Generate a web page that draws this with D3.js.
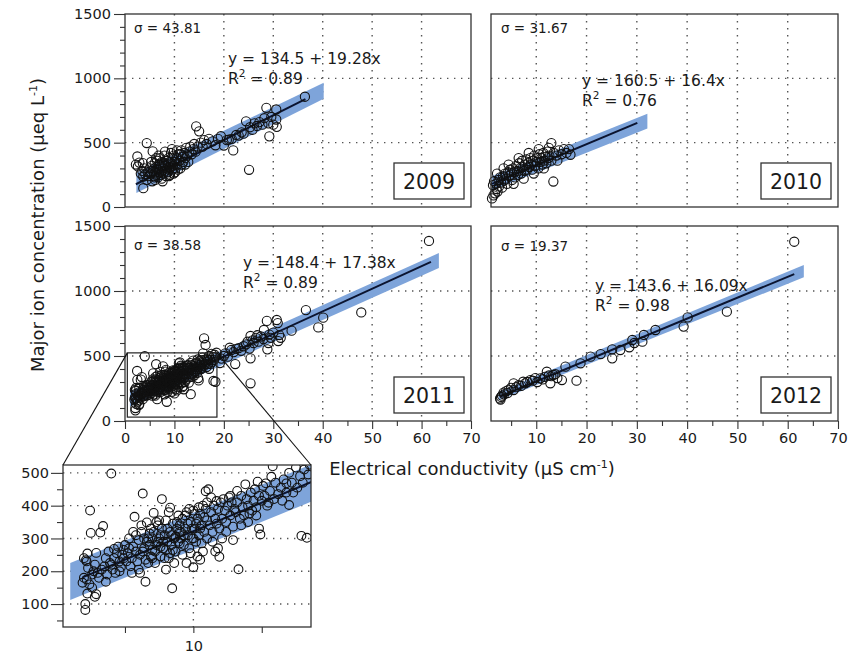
<!DOCTYPE html>
<html><head><meta charset="utf-8">
<script src="https://cdn.jsdelivr.net/npm/d3@7"></script>
<style>
body{margin:0;background:#fff;}
svg text{font-family:"DejaVu Sans","Liberation Sans",Arial,sans-serif;fill:#1a1a1a;}
</style></head><body>
<svg id="chart" width="861" height="656"></svg>
<script>
// ---------------- DATA ----------------
const years = ["2009","2010","2011","2012"];
const sigmas = ["43.81","31.67","38.58","19.37"];
const intercepts = [134.5,160.5,148.4,143.6];
const slopes = [19.28,16.4,17.38,16.09];
const r2 = ["0.89","0.76","0.89","0.98"];
const lineRanges = [[2.2,36.5],[1.2,30.1],[1.9,61.9],[2.8,61.3]];
const bandX = [[2.3,40.2],[1.2,32.1],[1.0,63.5],[2.5,63.2]];
const bandLo = [[109,841],[130,610],[112,1177],[160,1105]];
const bandHi = [[266,966],[240,725],[225,1292],[225,1200]];
const xTicksMain = [0,10,20,30,40,50,60,70];
const xMinorMain = [5,15,25,35,45,55,65];
const yTicksMain = [0,500,1000,1500];
const yMinorMain = [100,200,300,400,600,700,800,900,1100,1200,1300,1400];
const gridX = [10,20,30,40,50,60];
const gridY = [500,1000];
const yTicksInset = [100,200,300,400,500];
const yMinorInset = [50,150,250,350,450];
const xTicksInset = [5,10,15];
const xLabelInset = [10];
const insetXDomain = [0.47,18.6];
const insetYDomain = [30,524];

const pts2009 = [[2.5,393],[2.6,315],[2.2,330],[2.9,345],[3.6,341],[4.4,497],[3.7,146],[3.7,237],[4.4,211],[3.2,260],[3.5,280],[3.9,300],[4.1,255],[4.6,270],[4.8,240],[5.0,300],[5.2,260],[5.4,320],[5.6,432],[5.6,280],[5.8,240],[5.9,299],[6.0,340],[6.1,210],[6.2,270],[6.3,310],[6.4,250],[6.5,360],[6.6,290],[6.7,230],[6.8,330],[6.9,270],[7.0,300],[7.1,380],[7.2,250],[7.3,320],[7.4,280],[7.5,350],[7.6,200],[7.7,300],[7.8,260],[7.9,340],[8.0,400],[8.1,280],[8.2,320],[8.3,240],[8.4,360],[8.5,300],[8.6,270],[8.7,330],[8.8,380],[8.9,290],[9.0,350],[9.1,250],[9.2,310],[9.3,420],[9.4,340],[9.5,290],[9.6,370],[9.7,320],[9.8,260],[9.9,400],[10.0,350],[10.2,300],[10.4,380],[10.6,330],[10.8,410],[11.0,360],[11.2,300],[11.4,440],[11.6,390],[11.8,350],[12.0,420],[12.2,380],[12.4,460],[12.6,400],[12.8,350],[13.0,430],[13.2,470],[13.5,410],[13.8,450],[14.0,490],[14.4,627],[15.0,588],[14.3,430],[14.7,470],[15.3,500],[15.7,470],[16.0,520],[16.5,490],[17.0,530],[17.7,510],[18.3,480],[18.8,530],[19.4,550],[20.0,478],[20.6,520],[21.0,523],[21.6,530],[21.9,440],[22.5,560],[23.0,555],[23.6,580],[24.0,570],[24.5,666],[25.1,289],[25.3,620],[25.8,600],[26.2,650],[26.7,630],[27.2,660],[27.8,640],[28.2,690],[28.6,771],[29.0,650],[29.2,549],[29.6,700],[30.0,640],[30.6,758],[30.6,680],[30.7,623],[36.4,857],[5.3,350],[6.0,230],[6.8,400],[7.4,220],[8.1,430],[8.9,240],[9.5,450],[10.1,270],[10.7,290],[11.5,330],[5.5,200],[6.3,380],[7.0,330],[8.6,360],[9.8,300],[10.5,440],[11.3,410],[12.2,330]];

const pts2010 = [[1.2,67],[1.5,90],[1.8,106],[2.1,140],[1.4,170],[1.6,200],[2.0,180],[2.3,120],[2.5,210],[2.6,160],[2.8,230],[3.0,190],[3.2,150],[3.4,240],[3.6,205],[3.8,260],[4.0,220],[4.2,180],[4.4,270],[4.6,240],[4.8,290],[5.0,250],[5.2,210],[5.4,300],[5.6,270],[5.8,230],[6.0,320],[6.2,280],[6.4,250],[6.6,340],[6.8,300],[7.0,260],[7.2,360],[7.4,310],[7.6,280],[7.8,330],[8.0,370],[8.2,290],[8.4,340],[8.6,310],[8.8,380],[9.0,330],[9.2,290],[9.4,360],[9.6,400],[9.8,320],[10.0,350],[10.2,380],[10.4,300],[10.6,410],[10.8,350],[11.0,380],[11.2,330],[11.4,420],[11.6,360],[11.8,390],[12.0,340],[12.2,430],[12.4,380],[12.6,400],[13.0,497],[13.0,360],[13.4,198],[13.5,420],[14.0,400],[14.5,440],[15.0,410],[15.5,450],[16.0,420],[16.5,450],[16.8,406],[5.5,180],[7.5,220],[9.5,260],[3.5,300],[6.5,380],[8.5,420],[10.5,450],[2.2,260],[4.5,330],[12.5,460],[11.5,300],[14.2,360]];

const pts2011 = [[2.1,82],[2.1,100],[2.2,175],[2.15,234],[2.45,385],[2.5,317],[2.25,254],[2.25,132],[2.8,122],[2.9,130],[1.9,165],[2.0,180],[2.3,210],[2.6,190],[2.7,200],[2.4,160],[2.9,256],[2.2,230],[2.0,240],[2.6,150],[2.8,220],
[3.2,318],[3.4,338],[3.6,168],[4.0,498],[3.1,180],[3.3,205],[3.5,215],[3.7,190],[3.9,225],[4.1,205],[4.2,240],[4.4,255],[4.6,230],[4.8,250],[3.8,260],[4.3,195],[4.5,275],[4.7,212],[4.9,240],[3.0,195],[3.6,240],[4.0,220],[4.2,268],[4.6,200],[4.9,265],
[5.7,366],[6.3,437],[6.5,168],[6.6,349],[5.1,230],[5.2,255],[5.3,300],[5.4,215],[5.5,240],[5.6,275],[5.8,260],[5.9,230],[6.0,295],[6.1,250],[6.2,320],[6.4,270],[6.5,235],[6.7,300],[6.8,280],[6.9,245],[5.5,195],[6.0,205],[6.2,340],[6.6,290],[6.9,330],[5.3,270],[5.8,310],[6.3,260],[6.7,225],[5.0,280],[6.1,195],[6.8,315],[5.6,320],[6.4,300],[7.0,265],
[7.1,378],[7.7,420],[8.3,394],[8.45,148],[7.0,300],[7.1,320],[7.2,260],[7.3,280],[7.4,340],[7.5,300],[7.6,245],[7.7,330],[7.8,270],[7.9,310],[8.0,355],[8.1,290],[8.2,240],[8.3,320],[8.4,280],[8.5,345],[8.6,300],[8.7,260],[8.8,330],[8.9,370],[7.2,225],[7.5,355],[7.9,240],[8.2,380],[8.6,225],[8.9,290],[7.4,290],[7.6,310],[8.0,265],[8.4,310],[8.8,350],[7.3,350],[7.8,290],[8.1,330],[8.5,265],[8.7,305],[7.0,240],[7.6,275],[8.3,255],[9.0,320],[8.0,205],
[10.0,212],[9.0,340],[9.1,300],[9.2,360],[9.3,280],[9.4,330],[9.5,380],[9.6,310],[9.7,270],[9.8,350],[9.9,300],[10.0,385],[10.1,330],[10.2,290],[10.3,360],[10.4,310],[10.5,375],[10.6,340],[10.7,260],[10.8,320],[10.9,444],[11.0,355],[9.2,250],[9.5,225],[9.8,255],[10.3,245],[10.6,285],[11.0,300],[9.4,370],[9.7,390],[10.1,375],[10.5,330],[10.9,390],[9.1,320],[9.6,345],[10.2,345],[10.7,400],[9.3,310],[9.9,330],[10.4,395],[10.8,365],[9.0,285],[10.0,300],[11.0,410],[10.5,235],
[11.1,450],[11.7,414],[11.9,244],[11.8,270],[12.9,336],[12.9,295],[11.2,340],[11.3,380],[11.4,320],[11.5,400],[11.6,360],[11.7,345],[11.8,390],[11.9,330],[12.0,410],[12.1,360],[12.2,420],[12.3,385],[12.4,350],[12.5,400],[12.6,425],[12.7,370],[12.8,410],[13.0,390],[11.4,290],[11.6,260],[12.1,300],[12.4,320],[12.7,430],[11.3,425],
[13.3,206],[13.8,465],[14.7,473],[14.9,312],[14.8,330],[14.1,376],[13.1,380],[13.2,410],[13.4,360],[13.5,430],[13.6,395],[13.7,370],[13.9,420],[14.0,400],[14.2,440],[14.3,385],[14.4,415],[14.5,450],[14.6,395],[14.8,430],[15.0,415],[13.5,340],[14.0,350],[13.2,445],[14.6,370],
[15.8,520],[17.5,516],[18.1,510],[15.7,488],[15.3,468],[16.8,468],[17.3,440],[17.0,402],[15.5,409],[17.9,308],[15.2,430],[15.4,400],[15.6,445],[15.9,420],[16.0,470],[16.2,435],[16.4,455],[16.3,585],[16.0,636],[16.6,480],[16.8,440],[17.0,500],[17.2,470],[17.6,455],[17.8,490],[18.0,470],[18.3,302],[18.4,495],[18.5,525],[16.5,415],[15.1,460],
[19.2,446],[19.5,480],[20.0,500],[20.3,520],[20.8,495],[21.2,564],[21.5,546],[22.0,530],[22.3,438],[22.5,555],[23.0,560],[23.5,540],[24.0,575],[24.5,590],[25.2,557],[25.4,482],[25.4,654],[25.4,290],[25.8,620],[26.0,600],[26.5,640],[27.0,610],[27.5,650],[28.0,630],[28.1,700],[28.7,770],[28.8,551],[29.2,665],[29.5,640],[30.0,680],[30.7,777],[30.9,753],[31.0,615],[31.2,661],[31.5,640],[33.7,695],[36.6,853],[39.1,720],[40.1,795],[47.8,835],[61.5,1385],[24.8,610],[26.8,660],[29.0,600]];

const pts2012 = [[2.8,174],[3.0,185],[2.9,165],[3.2,195],[3.5,218],[3.6,205],[4.0,230],[4.3,215],[4.5,240],[5.0,255],[5.5,290],[5.5,238],[6.0,260],[6.5,275],[7.0,270],[7.4,302],[7.8,290],[8.2,300],[8.8,315],[9.3,310],[9.8,330],[10.2,300],[10.8,328],[11.3,320],[11.7,340],[12.1,379],[12.5,350],[12.8,290],[13.0,345],[13.4,354],[13.8,360],[14.2,330],[15.1,315],[15.8,418],[18.0,310],[18.8,444],[20.8,495],[22.8,515],[25.1,551],[25.1,482],[26.7,546],[28.5,567],[29.1,623],[29.5,600],[31.1,610],[31.4,662],[33.7,700],[39.3,726],[40.1,797],[47.9,841],[61.3,1379]];

const allPts = [pts2009, pts2010, pts2011, pts2012];

// ---------------- LAYOUT ----------------
const layouts = [
  {x:[125,471], y:[207,14],  xd:[0,70], yAxis:true,  xAxis:false, sig:[134,33],  eq:[228,64]},
  {x:[491,838], y:[207,14],  xd:[1,70], yAxis:false, xAxis:false, sig:[501,33],  eq:[582,86]},
  {x:[125,471], y:[421,226], xd:[0,70], yAxis:true,  xAxis:true,  sig:[134,250], eq:[243,268]},
  {x:[491,838], y:[421,226], xd:[1,70], yAxis:false, xAxis:true,  sig:[501,251], eq:[595,291]}
];
const svg = d3.select("#chart");
const gridStyle = s => s.attr("stroke","#555").attr("stroke-width",1.4).attr("stroke-dasharray","1.4,5.6");
const bandColor = "#7ea4da";
const lineColor = "#0b1430";
const plainFmt = d3.format("d");

function styleAxis(g){ g.select(".domain").remove(); g.selectAll(".tick line").attr("stroke","#333").attr("stroke-width",1.1); g.selectAll("text").attr("font-size","14.5px").attr("fill","#1a1a1a"); }

let scales2011 = null;
layouts.forEach((L,i)=>{
  const xs = d3.scaleLinear().domain(L.xd).range(L.x);
  const ys = d3.scaleLinear().domain([0,1500]).range(L.y);
  if(i===2) scales2011 = {xs,ys};
  const g = svg.append("g");
  // grid
  g.selectAll("line.gx").data(gridX).join("line").attr("class","gx").attr("x1",d=>xs(d)).attr("x2",d=>xs(d)).attr("y1",L.y[1]).attr("y2",L.y[0]).call(gridStyle);
  g.selectAll("line.gy").data(gridY).join("line").attr("class","gy").attr("y1",d=>ys(d)).attr("y2",d=>ys(d)).attr("x1",L.x[0]).attr("x2",L.x[1]).call(gridStyle);
  // band
  const poly = [[bandX[i][0],bandLo[i][0]],[bandX[i][1],bandLo[i][1]],[bandX[i][1],bandHi[i][1]],[bandX[i][0],bandHi[i][0]]];
  g.append("path").attr("d", d3.line().x(d=>xs(d[0])).y(d=>ys(d[1]))(poly)+"Z").attr("fill",bandColor).attr("stroke","none");
  // regression line
  const lr = lineRanges[i];
  g.append("line").attr("x1",xs(lr[0])).attr("x2",xs(lr[1])).attr("y1",ys(intercepts[i]+slopes[i]*lr[0])).attr("y2",ys(intercepts[i]+slopes[i]*lr[1]))
    .attr("stroke",lineColor).attr("stroke-width",2);
  // circles
  g.selectAll("circle.pt").data(allPts[i]).join("circle").attr("class","pt").attr("cx",d=>xs(d[0])).attr("cy",d=>ys(d[1])).attr("r",4.6)
    .attr("fill","none").attr("stroke","#111").attr("stroke-width",1.1);
  // frame
  g.append("rect").attr("x",L.x[0]).attr("y",L.y[1]).attr("width",L.x[1]-L.x[0]).attr("height",L.y[0]-L.y[1]).attr("fill","none").attr("stroke","#333").attr("stroke-width",1.3);
  // axes
  if(L.yAxis){
    g.append("g").attr("transform",`translate(${L.x[0]},0)`).call(d3.axisLeft(ys).tickValues(yMinorMain).tickSize(5).tickFormat("")).call(styleAxis);
    g.append("g").attr("transform",`translate(${L.x[0]},0)`).call(d3.axisLeft(ys).tickValues(yTicksMain).tickSize(11).tickPadding(3).tickFormat(plainFmt)).call(styleAxis);
  }
  if(L.xAxis){
    g.append("g").attr("transform",`translate(0,${L.y[0]})`).call(d3.axisBottom(xs).tickValues(xMinorMain).tickSize(5).tickFormat("")).call(styleAxis);
    const xt = xTicksMain.filter(v=>v>=L.xd[0]);
    g.append("g").attr("transform",`translate(0,${L.y[0]})`).call(d3.axisBottom(xs).tickValues(xt).tickSize(8).tickPadding(4).tickFormat(plainFmt)).call(styleAxis);
  }
  // sigma
  g.append("text").attr("x",L.sig[0]).attr("y",L.sig[1]).attr("font-size","13.5px").text("σ = "+sigmas[i]);
  // equation
  g.append("text").attr("x",L.eq[0]).attr("y",L.eq[1]).attr("font-size","15.5px").text(`y = ${intercepts[i]} + ${slopes[i]}x`);
  const rt = g.append("text").attr("x",L.eq[0]).attr("y",L.eq[1]+20).attr("font-size","15.5px");
  rt.append("tspan").text("R");
  rt.append("tspan").attr("dy",-7).attr("font-size","10.5px").text("2");
  rt.append("tspan").attr("dy",7).text(" = "+r2[i]);
  // year box
  const bw=70, bh=36, bx=L.x[1]-7-bw, by=L.y[0]-8-bh;
  g.append("rect").attr("x",bx).attr("y",by).attr("width",bw).attr("height",bh).attr("fill","#fff").attr("stroke","#333").attr("stroke-width",1.3);
  g.append("text").attr("x",bx+bw/2).attr("y",by+bh/2+7.5).attr("text-anchor","middle").attr("font-size","20.5px").text(years[i]);
});

// ---------------- INSET ----------------
const ix = d3.scaleLinear().domain(insetXDomain).range([63,311]);
const iy = d3.scaleLinear().domain(insetYDomain).range([627,465]);
const ig = svg.append("g");
svg.append("defs").append("clipPath").attr("id","insetClip").append("rect").attr("x",63).attr("y",465).attr("width",248).attr("height",162);
const igc = ig.append("g").attr("clip-path","url(#insetClip)");
igc.selectAll("line.gy").data(yTicksInset).join("line").attr("class","gy").attr("x1",63).attr("x2",311).attr("y1",d=>iy(d)).attr("y2",d=>iy(d)).call(gridStyle);
igc.selectAll("line.gx").data(xLabelInset).join("line").attr("class","gx").attr("y1",465).attr("y2",627).attr("x1",d=>ix(d)).attr("x2",d=>ix(d)).call(gridStyle);
{
  const i=2;
  const poly = [[bandX[i][0],bandLo[i][0]],[bandX[i][1],bandLo[i][1]],[bandX[i][1],bandHi[i][1]],[bandX[i][0],bandHi[i][0]]];
  igc.append("path").attr("d", d3.line().x(d=>ix(d[0])).y(d=>iy(d[1]))(poly)+"Z").attr("fill",bandColor);
  const lr = lineRanges[i];
  igc.append("line").attr("x1",ix(lr[0])).attr("x2",ix(lr[1])).attr("y1",iy(intercepts[i]+slopes[i]*lr[0])).attr("y2",iy(intercepts[i]+slopes[i]*lr[1]))
    .attr("stroke",lineColor).attr("stroke-width",2);
  igc.selectAll("circle.pt").data(pts2011).join("circle").attr("class","pt").attr("cx",d=>ix(d[0])).attr("cy",d=>iy(d[1])).attr("r",4.4)
    .attr("fill","none").attr("stroke","#111").attr("stroke-width",1.1);
}
ig.append("rect").attr("x",63).attr("y",465).attr("width",248).attr("height",162).attr("fill","none").attr("stroke","#333").attr("stroke-width",1.3);
ig.append("g").attr("transform","translate(63,0)").call(d3.axisLeft(iy).tickValues(yMinorInset).tickSize(6).tickFormat("")).call(styleAxis);
ig.append("g").attr("transform","translate(63,0)").call(d3.axisLeft(iy).tickValues(yTicksInset).tickSize(12).tickPadding(2).tickFormat(plainFmt)).call(styleAxis);
ig.append("g").attr("transform","translate(0,627)").call(d3.axisBottom(ix).tickValues(xTicksInset).tickSize(6).tickPadding(8).tickFormat(d=>xLabelInset.includes(d)?d:"")).call(styleAxis);

// zoom box + connectors
{
  const {xs,ys} = scales2011;
  const bx0 = xs(insetXDomain[0]), bx1 = xs(insetXDomain[1]), by0 = ys(insetYDomain[1]), by1 = ys(insetYDomain[0]);
  svg.append("rect").attr("x",bx0).attr("y",by0).attr("width",bx1-bx0).attr("height",by1-by0).attr("fill","none").attr("stroke","#222").attr("stroke-width",1.2);
  svg.append("line").attr("x1",bx0).attr("y1",by0).attr("x2",63).attr("y2",465).attr("stroke","#111").attr("stroke-width",1.1);
  svg.append("line").attr("x1",bx1).attr("y1",by0).attr("x2",311).attr("y2",465).attr("stroke","#111").attr("stroke-width",1.1);
}

// axis titles
const xt = svg.append("text").attr("x",472).attr("y",475).attr("text-anchor","middle").attr("font-size","18px");
xt.append("tspan").text("Electrical conductivity (µS cm");
xt.append("tspan").attr("dy",-7).attr("font-size","11px").text("-1");
xt.append("tspan").attr("dy",7).text(")");
const yt = svg.append("text").attr("transform","translate(44,225) rotate(-90)").attr("text-anchor","middle").attr("font-size","18px");
yt.append("tspan").text("Major ion concentration (µeq L");
yt.append("tspan").attr("dy",-7).attr("font-size","11px").text("-1");
yt.append("tspan").attr("dy",7).text(")");
</script>
</body></html>
